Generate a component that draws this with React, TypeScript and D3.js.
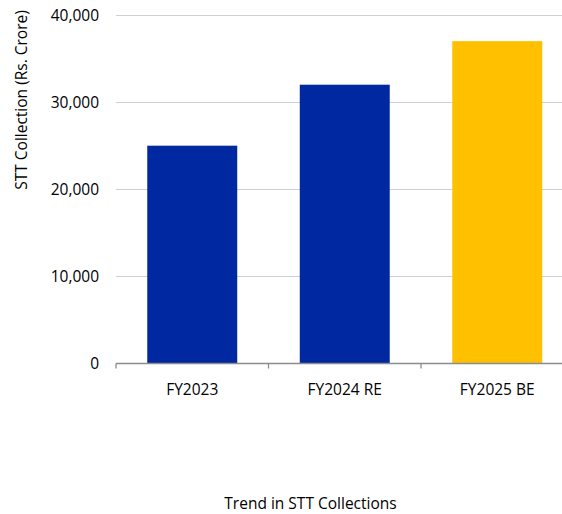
import React from "react";
import * as d3 from "d3";

const categories = ["FY2023", "FY2024 RE", "FY2025 BE"];
const values = [25000, 32000, 37000];
const barColors = ["#0028A0", "#0028A0", "#FFC000"];
const yTicks = [0, 10000, 20000, 30000, 40000];
const yTitle = "STT Collection (Rs. Crore)";
const chartTitle = "Trend in STT Collections";

const W = 562;
const H = 514;
const left = 116;
const right = 573.5;
const top = 15;
const bottom = 363.5;
const FONT = "'Open Sans', 'Noto Sans', sans-serif";

export default function App() {
  const x = d3
    .scaleBand<string>()
    .domain(categories)
    .range([left, right])
    .paddingInner(0.41)
    .paddingOuter(0.205);
  const y = d3.scaleLinear().domain([0, 40000]).range([bottom, top]);
  const fmt = d3.format(",");
  const step = x.step();
  const boundaries = d3.range(categories.length + 1).map((i) => left + i * step);

  return (
    <svg
      width={W}
      height={H}
      style={{ position: "absolute", left: 0, top: 0, background: "#fff" }}
      fontFamily={FONT}
    >
      {yTicks
        .filter((t) => t > 0)
        .map((t) => (
          <line
            key={"g" + t}
            x1={left}
            x2={W}
            y1={Math.round(y(t)) + 0.5}
            y2={Math.round(y(t)) + 0.5}
            stroke="#d0d0d0"
            strokeWidth={1}
          />
        ))}
      {categories.map((c, i) => (
        <rect
          key={c}
          x={x(c)}
          y={y(values[i])}
          width={x.bandwidth()}
          height={y(0) - y(values[i])}
          fill={barColors[i]}
        />
      ))}
      <line x1={left} x2={W} y1={y(0)} y2={y(0)} stroke="#8c8c8c" strokeWidth={1.3} />
      {boundaries.map((b, i) => (
        <line key={"t" + i} x1={b} x2={b} y1={y(0)} y2={y(0) + 5} stroke="#8c8c8c" strokeWidth={1.3} />
      ))}
      {yTicks.map((t) => (
        <text
          key={"yl" + t}
          x={99}
          y={y(t)}
          dy="0.36em"
          textAnchor="end"
          fontSize={15.5}
          fill="#000"
        >
          {fmt(t)}
        </text>
      ))}
      {categories.map((c) => (
        <text
          key={"xl" + c}
          x={(x(c) as number) + x.bandwidth() / 2}
          y={395}
          textAnchor="middle"
          fontSize={15.5}
          fill="#000"
        >
          {c}
        </text>
      ))}
      <text
        transform={`translate(27,100) rotate(-90)`}
        textAnchor="middle"
        fontSize={15.5}
        fill="#000"
      >
        {yTitle}
      </text>
      <text x={310.5} y={509} textAnchor="middle" fontSize={15.5} fill="#000">
        {chartTitle}
      </text>
    </svg>
  );
}
